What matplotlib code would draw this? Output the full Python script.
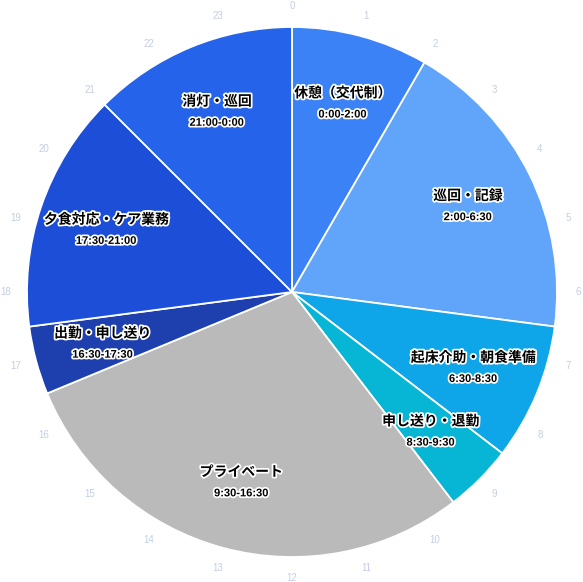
import numpy as np
import matplotlib.pyplot as plt
import matplotlib.patheffects as pe

plt.rcParams['font.family'] = ['Noto Sans CJK JP', 'DejaVu Sans']

# schedule (24h clock)
names = ['休憩（交代制）', '巡回・記録', '起床介助・朝食準備', '申し送り・退勤',
         'プライベート', '出勤・申し送り', '夕食対応・ケア業務', '消灯・巡回']
times = ['0:00-2:00', '2:00-6:30', '6:30-8:30', '8:30-9:30',
         '9:30-16:30', '16:30-17:30', '17:30-21:00', '21:00-0:00']
hours = [2, 4.5, 2, 1, 7, 1, 3.5, 3]
colors = ['#3b82f6', '#60a5fa', '#0ea5e9', '#06b6d4',
          '#bababa', '#1e40af', '#1d4ed8', '#2563eb']
hour_ticks = list(range(24))

fig = plt.figure(figsize=(5.83, 5.82), dpi=100)
ax = fig.add_axes([0, 0, 1, 1])
ax.pie(hours, colors=colors, startangle=90, counterclock=False, radius=1,
       wedgeprops=dict(edgecolor='white', linewidth=1.3))

outline = [pe.withStroke(linewidth=2.5, foreground='white')]
start = 0
for n, t, h in zip(names, times, hours):
    mid = np.deg2rad((start + h / 2) / 24 * 360)
    x, y = 0.74 * np.sin(mid), 0.74 * np.cos(mid)
    ax.text(x, y + 0.035, n, ha='center', va='center', fontsize=10,
            fontweight='bold', color='black', path_effects=outline)
    ax.text(x, y - 0.045, t, family=['Liberation Sans', 'DejaVu Sans'],
            ha='center', va='center', fontsize=8,
            fontweight='bold', color='black', path_effects=outline)
    start += h

for hr in hour_ticks:
    a = np.deg2rad(hr / 24 * 360)
    ax.text(1.08 * np.sin(a), 1.08 * np.cos(a), str(hr), ha='center', va='center',
            fontsize=7, color='#c3cee2', family=['Liberation Sans', 'DejaVu Sans'])

ax.set_xlim(-292 / 265, 291 / 265)
ax.set_ylim(-290 / 265, 292 / 265)
ax.set_aspect('auto')
ax.axis('off')
fig.savefig('out.png', dpi=100)
